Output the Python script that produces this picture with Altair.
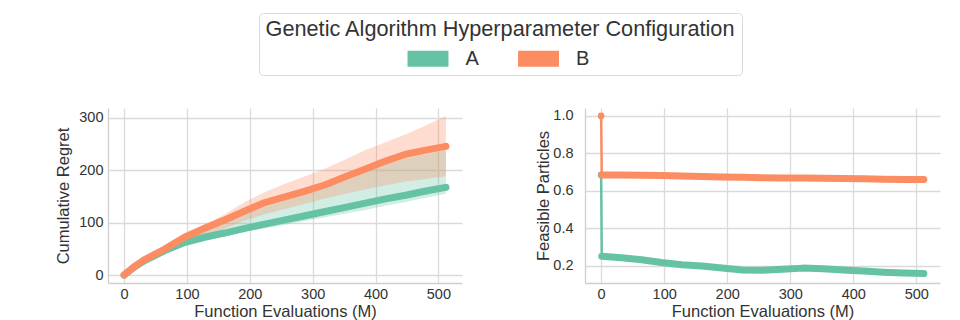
import altair as alt
import pandas as pd

FONT = "Liberation Sans"
GREEN, ORANGE = "#66c2a5", "#fc8d62"
TEXT = "#333333"

configs = ["A", "B"]

# ---- Left panel: cumulative regret ----
evals = [0, 16, 32, 64, 96, 128, 160, 192, 224, 256, 288, 320, 352, 384, 416, 448, 480, 512]
regret_a_mean = [0, 15, 27, 46, 62, 72, 80, 89, 97, 105, 113, 121, 129, 137, 145, 152, 160, 167]
regret_a_lo = [0, 14, 25, 43, 58, 67, 74, 82, 89, 96, 103, 110, 117, 124, 132, 139, 147, 155]
regret_a_hi = [0, 16, 29, 49, 70, 85, 100, 116, 130, 142, 154, 166, 180, 195, 210, 222, 230, 238]
regret_b_mean = [0, 16, 29, 49, 72, 89, 105, 122, 138, 149, 160, 172, 187, 202, 217, 230, 238, 245]
regret_b_lo = [0, 15, 27, 46, 64, 76, 88, 104, 116, 126, 136, 146, 155, 163, 171, 178, 183, 188]
regret_b_hi = [0, 17, 30, 51, 76, 96, 116, 139, 158, 174, 188, 203, 220, 238, 253, 268, 285, 303]

# ---- Right panel: feasible particles ----
feas_evals = [0, 1, 32, 64, 96, 128, 160, 192, 224, 256, 288, 320, 352, 384, 416, 448, 480, 512]
feas_a = [0.685, 0.25, 0.242, 0.232, 0.217, 0.205, 0.198, 0.188, 0.177, 0.176, 0.181, 0.187,
          0.183, 0.177, 0.171, 0.165, 0.161, 0.158]
feas_b = [1.0, 0.685, 0.684, 0.683, 0.682, 0.679, 0.677, 0.674, 0.672, 0.670, 0.668, 0.669,
          0.667, 0.666, 0.664, 0.662, 0.661, 0.660]

left_rows = []
for cfg, m, lo, hi in [("A", regret_a_mean, regret_a_lo, regret_a_hi),
                       ("B", regret_b_mean, regret_b_lo, regret_b_hi)]:
    for x, a, b, c in zip(evals, m, lo, hi):
        left_rows.append({"x": x, "config": cfg, "mean": a, "lo": b, "hi": c})
left = pd.DataFrame(left_rows)

right_rows = []
for cfg, vals in [("A", feas_a), ("B", feas_b)]:
    for x, v in zip(feas_evals, vals):
        right_rows.append({"x": x, "config": cfg, "value": v})
right = pd.DataFrame(right_rows)

color_scale = alt.Scale(domain=configs, range=[GREEN, ORANGE])

legend = alt.Legend(
    title="Genetic Algorithm Hyperparameter Configuration",
    orient="none", legendX=151, legendY=-95,
    direction="horizontal", columns=2,
    symbolType="M-2.56,-1H2.56V1H-2.56Z", symbolSize=256,
    symbolOpacity=1, symbolStrokeWidth=0, symbolOffset=7,
    labelOffset=27.5, columnPadding=38.5,
    titleAnchor="middle", titleAlign="center", titleLimit=1000,
    titleFontSize=21.7, labelFontSize=20,
    titleFont=FONT, labelFont=FONT, titleColor=TEXT, labelColor=TEXT,
    titleFontWeight="normal",
    padding=6, titlePadding=8, cornerRadius=4,
    strokeColor="#d9d9d9", fillColor="white",
)

xdom = [-25.6, 537.6]
def x_enc():
    return alt.X("x:Q", scale=alt.Scale(domain=xdom, nice=False, zero=False),
                 axis=alt.Axis(values=[0, 100, 200, 300, 400, 500],
                               title="Function Evaluations (M)",
                               labelPadding=4, titlePadding=3))

ly_scale = alt.Scale(domain=[-15.15, 318.15], nice=False, zero=False)
ly_axis = alt.Axis(values=[0, 100, 200, 300], title="Cumulative Regret",
                   labelPadding=5, titlePadding=7)

left_band = alt.Chart(left).mark_area(opacity=0.3).encode(
    x=x_enc(),
    y=alt.Y("lo:Q", scale=ly_scale, axis=ly_axis),
    y2="hi:Q",
    color=alt.Color("config:N", scale=color_scale, legend=legend),
)
left_line = alt.Chart(left).mark_line(strokeWidth=7, strokeCap="round", strokeJoin="round").encode(
    x=x_enc(),
    y=alt.Y("mean:Q", scale=ly_scale, axis=ly_axis),
    color=alt.Color("config:N", scale=color_scale, legend=None),
)
left_chart = alt.layer(left_band, left_line).properties(width=354, height=175)

ry_scale = alt.Scale(domain=[0.1075, 1.0425], nice=False, zero=False)
ry_axis = alt.Axis(values=[0.2, 0.4, 0.6, 0.8, 1.0], format=".1f", title="Feasible Particles",
                   labelPadding=12, titlePadding=1)

r_base = alt.Chart(right).encode(
    x=x_enc(),
    y=alt.Y("value:Q", scale=ry_scale, axis=ry_axis),
    color=alt.Color("config:N", scale=color_scale, legend=None),
)
r_thin = r_base.mark_line(strokeWidth=2.5)
r_dot = r_base.mark_circle(size=45, opacity=1).transform_filter("datum.x == 0")
r_thick = r_base.mark_line(strokeWidth=7, strokeCap="round", strokeJoin="round").transform_filter("datum.x >= 1")
right_chart = alt.layer(r_thin, r_dot, r_thick).properties(width=355, height=175)

chart = alt.hconcat(left_chart, right_chart, spacing=73).properties(
    padding={"left": 47, "top": 4, "right": 5, "bottom": 0}
).configure_view(stroke=None).configure_axis(
    labelFont=FONT, titleFont=FONT, labelFontSize=14.5, titleFontSize=16.5,
    labelColor=TEXT, titleColor=TEXT, titleFontWeight="normal",
    gridColor="#dadada", gridWidth=1.3, domainColor="#cfcfcf", domainWidth=1.3,
    ticks=False, tickSize=0,
)

chart.save("out.html", embed_options={"renderer": "svg", "actions": False})
